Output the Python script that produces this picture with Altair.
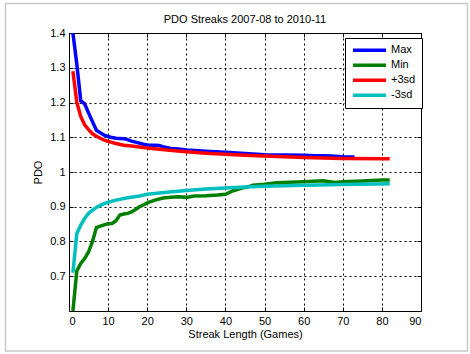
import altair as alt
import pandas as pd

# ---- data ----
series = ["Max", "Min", "+3sd", "-3sd"]
colors = ["#0000ff", "#007f00", "#ff0000", "#00bfbf"]
title_text = "PDO Streaks 2007-08 to 2010-11"

max_x = [1, 2, 3, 4, 5, 6, 7, 8, 9, 10, 11, 12, 14, 15, 16, 17, 18, 19, 20, 22, 23, 24, 26, 28, 30, 35, 40, 45, 50, 55, 60, 63, 65, 67, 70, 73]
max_y = [1.40, 1.31, 1.205, 1.196, 1.17, 1.145, 1.12, 1.113, 1.106, 1.102, 1.099, 1.097, 1.096, 1.093, 1.089, 1.086, 1.083, 1.080, 1.078, 1.077, 1.076, 1.073, 1.068, 1.066, 1.063, 1.060, 1.057, 1.053, 1.050, 1.049, 1.048, 1.047, 1.047, 1.046, 1.044, 1.043]

min_x = [1, 2, 3, 4, 5, 6, 7, 8, 9, 10, 11, 12, 13, 14, 15, 16, 17, 18, 19, 20, 22, 24, 26, 28, 30, 32, 35, 38, 40, 42, 44, 46, 47, 50, 53, 60, 65, 68, 70, 75, 80, 82]
min_y = [0.60, 0.715, 0.737, 0.751, 0.77, 0.80, 0.84, 0.844, 0.848, 0.851, 0.852, 0.86, 0.876, 0.879, 0.881, 0.885, 0.892, 0.90, 0.905, 0.911, 0.919, 0.925, 0.927, 0.929, 0.927, 0.931, 0.932, 0.934, 0.936, 0.946, 0.953, 0.958, 0.962, 0.965, 0.969, 0.972, 0.975, 0.970, 0.972, 0.974, 0.977, 0.977]

p3_x = [1, 2, 3, 4, 5, 6, 7, 8, 9, 10, 12, 14, 16, 18, 20, 25, 30, 35, 40, 45, 50, 60, 70, 82]
p3_y = [1.29, 1.20, 1.16, 1.136, 1.122, 1.11, 1.103, 1.097, 1.092, 1.088, 1.082, 1.077, 1.075, 1.072, 1.069, 1.063, 1.058, 1.054, 1.051, 1.048, 1.046, 1.042, 1.039, 1.038]

m3_x = [1, 2, 3, 4, 5, 6, 7, 8, 9, 10, 12, 15, 18, 20, 25, 30, 35, 40, 45, 50, 60, 70, 82]
m3_y = [0.71, 0.823, 0.847, 0.866, 0.881, 0.89, 0.898, 0.904, 0.909, 0.913, 0.919, 0.926, 0.931, 0.936, 0.942, 0.947, 0.951, 0.954, 0.957, 0.959, 0.962, 0.964, 0.966]

x_ticks = [0, 10, 20, 30, 40, 50, 60, 70, 80, 90]
y_ticks = [0.7, 0.8, 0.9, 1.0, 1.1, 1.2, 1.3, 1.4]

rows = []
for name, xs, ys in [("Max", max_x, max_y), ("Min", min_x, min_y),
                     ("+3sd", p3_x, p3_y), ("-3sd", m3_x, m3_y)]:
    for x, y in zip(xs, ys):
        rows.append({"series": name, "x": x, "y": y})
df = pd.DataFrame(rows)

FONT = "Liberation Sans"
TICK = 4

xscale = alt.Scale(domain=[0, 90], nice=False, zero=False)
yscale = alt.Scale(domain=[0.6, 1.4], nice=False, zero=False)

lines = alt.Chart(df).mark_line(strokeWidth=3.5, clip=True).encode(
    x=alt.X("x:Q", scale=xscale,
            axis=alt.Axis(values=x_ticks, title="Streak Length (Games)", titlePadding=2,
                          grid=True, ticks=True, tickSize=TICK, offset=-TICK)),
    y=alt.Y("y:Q", scale=yscale,
            axis=alt.Axis(values=y_ticks, format="~g", title="PDO", titlePadding=6,
                          grid=True, ticks=True, tickSize=TICK, offset=-TICK)),
    color=alt.Color("series:N", scale=alt.Scale(domain=series, range=colors),
                    legend=alt.Legend(title=None, orient="none", legendX=276, legendY=5,
                                      symbolType="stroke", symbolSize=1089,
                                      symbolStrokeWidth=3.5, labelFontSize=11,
                                      labelFont=FONT, labelColor="black", labelOffset=3,
                                      padding=6, strokeColor="black", fillColor="white",
                                      clipHeight=12.5, rowPadding=2, cornerRadius=0)),
)

# invisible layer carrying the top/right tick-only axes
mirror = alt.Chart(df).mark_point(opacity=0).encode(
    x=alt.X("x:Q", scale=xscale,
            axis=alt.Axis(orient="top", values=x_ticks, labels=False, title=None, grid=False,
                          ticks=True, tickSize=TICK, offset=-TICK)),
    y=alt.Y("y:Q", scale=yscale,
            axis=alt.Axis(orient="right", values=y_ticks, labels=False, title=None, grid=False,
                          ticks=True, tickSize=TICK, offset=-TICK)),
)

title = alt.Chart(alt.Data(values=[{}])).mark_text(
    font=FONT, fontSize=11, color="black", align="center", baseline="middle"
).encode(x=alt.value(176), y=alt.value(-13), text=alt.value(title_text))

frame = alt.Chart(alt.Data(values=[{}])).mark_rect(
    fill="white", fillOpacity=0, stroke="#c8c8c8", strokeWidth=1.5
).encode(x=alt.value(-63.5), x2=alt.value(398.5), y=alt.value(-29.5), y2=alt.value(318))

chart = alt.layer(frame, title, mirror, lines).resolve_axis(
    x="independent", y="independent"
).properties(
    width=352, height=278,
    padding={"left": 69, "top": 33, "right": 49, "bottom": 43},
    autosize=alt.AutoSizeParams(type="none"),
    background="white",
).configure_view(
    stroke="black", strokeWidth=1
).configure_axis(
    gridColor="black", gridDash=[2, 3], gridOpacity=1, gridWidth=1,
    domain=False, tickColor="black", tickWidth=1,
    labelFont=FONT, labelFontSize=11, labelColor="black", labelPadding=4,
    titleFont=FONT, titleFontSize=11, titleFontWeight="normal", titleColor="black",
)

chart.save("out.html", embed_options={"renderer": "svg", "actions": False})
